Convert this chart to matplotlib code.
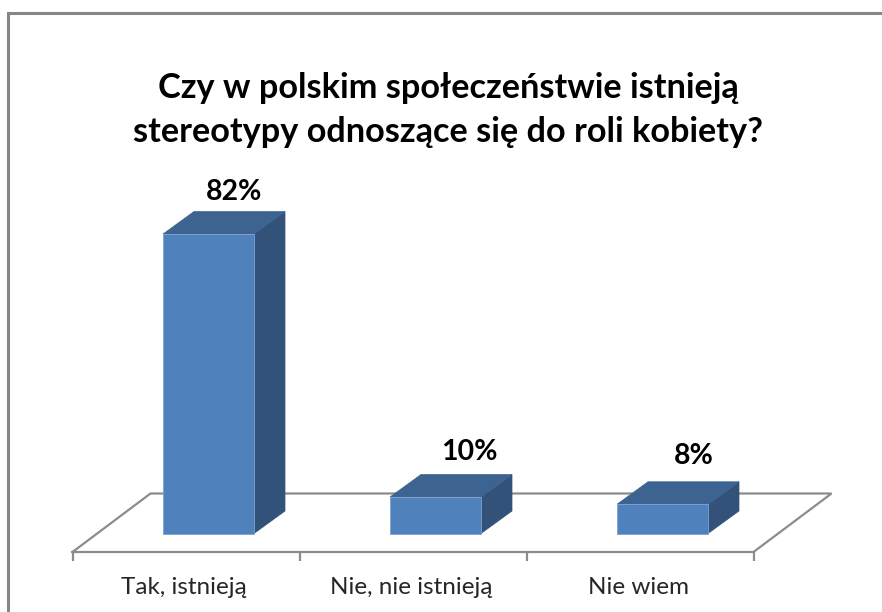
import matplotlib
matplotlib.use("Agg")
import matplotlib.pyplot as plt
from matplotlib.patches import Polygon

plt.rcParams['font.family'] = ['Lato', 'DejaVu Sans']

title = "Czy w polskim społeczeństwie istnieją\nstereotypy odnoszące się do roli kobiety?"
categories = ["Tak, istnieją", "Nie, nie istnieją", "Nie wiem"]
values = [82, 10, 8]

W, H = 882, 612
PX_CAT = 227.0      # pixels per category
PX_VAL = 3.652      # pixels per percent
X0, Y0 = 208.5, 533.5  # pixel position of category 0, value 0

# data label placement, pixels relative to the bar's front top centre
label_dx = [25.5, 33.5, 31.0]
label_dy = [42, 44.5, 48.5]

fig = plt.figure(figsize=(W / 100, H / 100), dpi=100, facecolor='white')
ax = fig.add_axes([0, 0, 1, 1])
ax.set_xlim(-X0 / PX_CAT, (W - X0) / PX_CAT)
ax.set_ylim(-(H - Y0) / PX_VAL, Y0 / PX_VAL)
ax.axis('off')

dx = 31 / PX_CAT    # depth offset
dy = 22.5 / PX_VAL
bw = 91 / PX_CAT    # bar width
floor_drop = 18.5 / PX_VAL
grey = '#8c8c8c'
FRONT, TOP, SIDE = '#4f81bd', '#3d6391', '#33527a'
EDGE = '#7fa3cf'

# chart frame (runs off the right and bottom of the image)
ax.plot([(W + 5 - X0) / PX_CAT, (7.5 - X0) / PX_CAT, (7.5 - X0) / PX_CAT],
        [(Y0 - 12.5) / PX_VAL, (Y0 - 12.5) / PX_VAL, -(H + 5 - Y0) / PX_VAL],
        color='#868686', lw=2.2, solid_joinstyle='miter', zorder=1)

# floor
fl, fr = -0.5 - 22.5 / PX_CAT, 2.5 - 22.5 / PX_CAT
fy = -floor_drop
ax.plot([fl, fr, fr + 78 / PX_CAT, fl + 78 / PX_CAT, fl],
        [fy, fy, fy + 58.5 / PX_VAL, fy + 58.5 / PX_VAL, fy],
        color=grey, lw=1.6, zorder=2, solid_joinstyle='miter')
for i in range(len(categories) + 1):
    xt = fl + i
    ax.plot([xt, xt], [fy, fy - 9 / PX_VAL], color=grey, lw=1.6, zorder=2,
            solid_capstyle='butt')

# bars and labels
for i, (cat, v) in enumerate(zip(categories, values)):
    l, r = i - bw / 2, i + bw / 2
    ax.add_patch(Polygon([(r, 0), (r + dx, dy), (r + dx, v + dy), (r, v)],
                         fc=SIDE, ec=SIDE, lw=0.5, zorder=3))
    ax.add_patch(Polygon([(l, v), (r, v), (r + dx, v + dy), (l + dx, v + dy)],
                         fc=TOP, ec=TOP, lw=0.5, zorder=3))
    ax.add_patch(Polygon([(l, 0), (r, 0), (r, v), (l, v)],
                         fc=FRONT, ec=EDGE, lw=0.6, zorder=4))
    ax.text(i + label_dx[i] / PX_CAT, v + label_dy[i] / PX_VAL, f"{v}%",
            ha='center', va='center', fontsize=20.5, fontweight='bold',
            color='black', zorder=5)
    ax.text(i - 24.5 / PX_CAT, -(587 - Y0) / PX_VAL, cat, ha='center', va='center',
            fontsize=17.5, color='#262626', zorder=5)

ax.text((448 - X0) / PX_CAT, (Y0 - 110) / PX_VAL, title, ha='center', va='center',
        fontsize=24.7, fontweight='bold', color='black', linespacing=1.46, zorder=5)

fig.savefig('out.png', dpi=100, facecolor='white')
